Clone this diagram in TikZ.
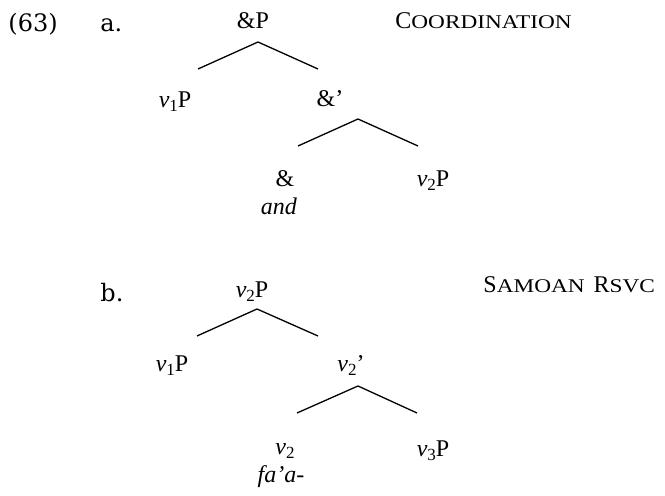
\documentclass[tikz,border=0pt]{standalone}
\usepackage{fontspec}
\setmainfont{Liberation Serif}
\newfontfamily\exfont{DejaVu Serif}
\newfontfamily\scf[FakeStretch=1.2]{Liberation Serif}
\newcommand\sbs[1]{\raisebox{-0.3ex}{\fontsize{8.5}{9}\selectfont #1}}
\newcommand\smc[1]{{\fontsize{9.7}{10}\scf #1}}
\newcommand\vv[1]{\textit{v}\sbs{#1}}
\tikzset{
  lbl/.style={anchor=base, inner sep=0pt, font=\fontsize{12}{14}\selectfont},
  exlbl/.style={anchor=base west, inner sep=0pt, font=\fontsize{12}{14}\selectfont\exfont},
  caplbl/.style={anchor=base west, inner sep=0pt, font=\fontsize{12}{14}\selectfont},
  branch/.style={line width=0.65pt, black}
}
\begin{document}
\begin{tikzpicture}[x=0.5pt, y=-0.5pt]
\useasboundingbox (0,0) rectangle (665,496);
% labels
\node[exlbl] (num) at (8,32) {(63)};
\node[exlbl] (la) at (100,32) {a.};
\node[exlbl] (lb) at (100,302) {b.};
\node[caplbl] (ca) at (395,29) {C\smc{OORDINATION}};
\node[caplbl] (cb) at (483,293) {S\smc{AMOAN}\hspace{4.5pt}R\smc{SVC}};
% tree a
\node[lbl] (aP) at (253,29) {\&P};
\node[lbl] (av1) at (175,108) {\vv{1}P};
\node[lbl] (abar) at (330,107) {\&’};
\node[lbl] (aamp) at (285,187) {\&};
\node[lbl] (av2) at (433,187) {\vv{2}P};
\node[lbl] (aand) at (279,215) {\textit{and}};
\coordinate (aT1) at (258,42);
\coordinate (aL1) at (198,69);
\coordinate (aR1) at (318,69);
\coordinate (aT2) at (358,119);
\coordinate (aL2) at (298,146);
\coordinate (aR2) at (418,146);
\draw[branch] (aL1) -- (aT1) -- (aR1);
\draw[branch] (aL2) -- (aT2) -- (aR2);
% tree b
\node[lbl] (bP) at (252,298) {\vv{2}P};
\node[lbl] (bv1) at (172,372) {\vv{1}P};
\node[lbl] (bbar) at (351,372) {\vv{2}’};
\node[lbl] (bv2) at (285,455) {\vv{2}};
\node[lbl] (bv3) at (433,457) {\vv{3}P};
\node[lbl] (bfaa) at (281,483) {\textit{fa’a-}};
\coordinate (bT1) at (257,309);
\coordinate (bL1) at (197,336);
\coordinate (bR1) at (318,336);
\coordinate (bT2) at (358,386);
\coordinate (bL2) at (297,413);
\coordinate (bR2) at (417,413);
\draw[branch] (bL1) -- (bT1) -- (bR1);
\draw[branch] (bL2) -- (bT2) -- (bR2);
\end{tikzpicture}
\end{document}
